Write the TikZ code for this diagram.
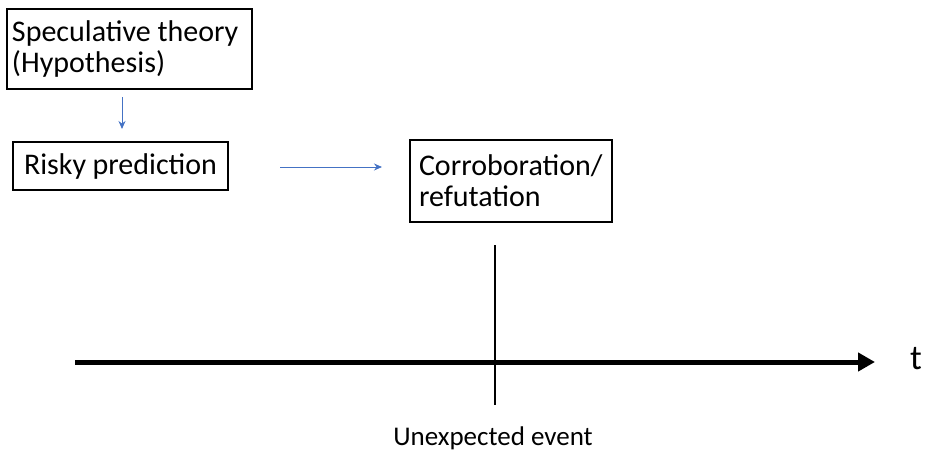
\documentclass[tikz,border=0pt]{standalone}
\usepackage{fontspec}
\setmainfont{Carlito}
\usetikzlibrary{arrows.meta}
\definecolor{arrowblue}{RGB}{68,114,196}
\begin{document}
\begin{tikzpicture}[x=1pt,y=-1pt,
  box/.style={draw=black,line width=1.2pt,rectangle,align=flush left,font=\fontsize{30}{31}\selectfont,anchor=center},
  thinarrow/.style={draw=arrowblue,line width=1pt,-{Stealth[length=8pt,width=7pt]}}]
\useasboundingbox (0,0) rectangle (936,455);
\node[box,minimum width=245pt,minimum height=80pt,text width=235pt,inner xsep=5pt] (spec) at (129.5,49) {Speculative theory\\(Hypothesis)};
\node[box,minimum width=215pt,minimum height=48pt,text width=193pt,inner xsep=11pt] (risk) at (120.5,166) {Risky prediction};
\node[box,minimum width=202pt,minimum height=82pt,text width=184pt,inner xsep=9pt] (corr) at (511,181) {Corroboration/\\refutation};
\coordinate (a1s) at (122,97);
\coordinate (a1e) at (122,129);
\draw[thinarrow] (a1s) -- (a1e);
\coordinate (a2s) at (280,167);
\coordinate (a2e) at (382,167);
\draw[thinarrow] (a2s) -- (a2e);
\coordinate (vtop) at (495,245);
\coordinate (vbot) at (495,405);
\draw[line width=1.3pt] (vtop) -- (vbot);
\coordinate (ax0) at (75,362);
\coordinate (ax1) at (875,362);
\draw[line width=5pt,-{Triangle[length=17pt,width=18pt]}] (ax0) -- (ax1);
\node[font=\fontsize{35}{38}\selectfont,anchor=base west,inner sep=0pt] (t) at (910,369) {t};
\node[font=\fontsize{27}{30}\selectfont,anchor=base,inner sep=0pt] (ue) at (493,445) {Unexpected event};
\end{tikzpicture}
\end{document}
